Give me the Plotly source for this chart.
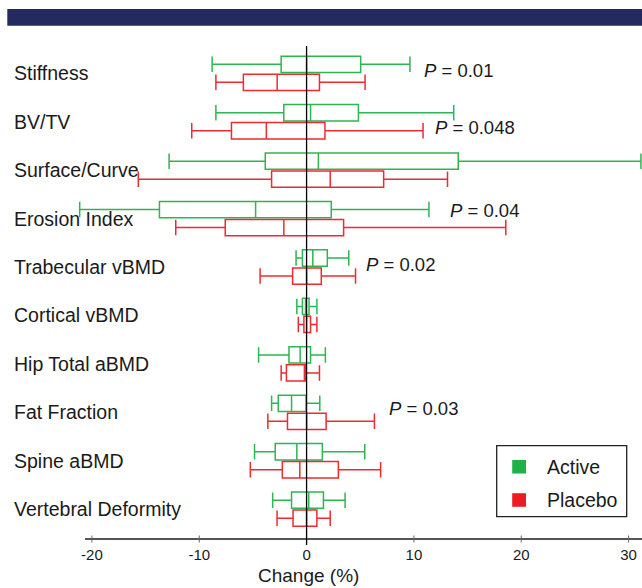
import plotly.graph_objects as go

# ---------------- data ----------------
categories = ["Stiffness", "BV/TV", "Surface/Curve", "Erosion Index", "Trabecular vBMD",
              "Cortical vBMD", "Hip Total aBMD", "Fat Fraction", "Spine aBMD", "Vertebral Deformity"]

active_low = [-8.80, -8.45, -12.81, -21.14, -0.98, -0.91, -4.47, -3.26, -4.85, -3.16]
active_q1 = [-2.37, -2.12, -3.85, -13.71, -0.39, -0.39, -1.64, -2.64, -2.92, -1.40]
active_med = [0.00, 0.37, 1.10, -4.75, 0.58, -0.10, -0.60, -1.40, -0.91, 0.20]
active_q3 = [5.04, 4.83, 14.13, 2.30, 1.93, 0.23, 0.37, -0.05, 1.47, 1.57]
active_high = [9.63, 13.71, 31.15, 11.40, 3.93, 0.96, 1.75, 1.23, 5.42, 3.59]

placebo_low = [-8.45, -10.70, -15.68, -12.19, -4.33, -0.77, -2.37, -3.61, -5.24, -2.75]
placebo_q1 = [-5.89, -7.00, -3.26, -7.58, -1.30, -0.25, -1.88, -1.78, -2.26, -1.26]
placebo_med = [-2.74, -3.75, 2.20, -2.12, 0.00, 0.00, -0.11, 0.00, -0.63, 0.00]
placebo_q3 = [1.20, 1.71, 7.18, 3.45, 1.37, 0.37, -0.11, 1.82, 2.96, 0.96]
placebo_high = [5.45, 10.85, 13.13, 18.56, 4.56, 0.96, 1.20, 6.32, 6.90, 2.20]

p_labels = ["0.01", "0.048", "0.04", "0.02", "0.03"]
p_rows = [0, 1, 3, 4, 7]

tick_vals = [-20, -10, 0, 10, 20, 30]
tick_text = ["-20", "-10", "0", "10", "20", "30"]

series_names = ["Active", "Placebo"]

# ---------------- style / layout ----------------
W, H = 642, 588
ML, MR, MT, MB = 77, 0, 40, 49
PW, PH = W - ML - MR, H - MT - MB
X_RANGE = [-21.39, 31.25]
Y_RANGE = [9.616, -0.688]
GREEN_LINE = "#2fb552"
RED_LINE = "#ee2b30"
GREEN_FILL = "#1db14b"
RED_FILL = "#ed1c24"
FONT = "Liberation Sans, Arial, sans-serif"
OFF = 0.186
BOXW = 0.337

# text-label positions (data x, offset from row)
p_x = [10.72, 11.80, 13.17, 5.39, 7.46]
p_dy = [-0.068, 0.113, -0.177, -0.052, -0.083]


def px_x(px):
    return (px - ML) / PW


def px_y(py):
    return (H - MB - py) / PH


rows = list(range(len(categories)))

fig = go.Figure()
fig.add_trace(go.Box(
    name=series_names[0], orientation="h",
    y=[r - OFF for r in rows],
    q1=active_q1, median=active_med, q3=active_q3,
    lowerfence=active_low, upperfence=active_high,
    width=BOXW, whiskerwidth=0.95,
    line=dict(color=GREEN_LINE, width=1.5),
    fillcolor="rgba(0,0,0,0)", showlegend=False, hoverinfo="skip",
))
fig.add_trace(go.Box(
    name=series_names[1], orientation="h",
    y=[r + OFF for r in rows],
    q1=placebo_q1, median=placebo_med, q3=placebo_q3,
    lowerfence=placebo_low, upperfence=placebo_high,
    width=BOXW, whiskerwidth=0.95,
    line=dict(color=RED_LINE, width=1.5),
    fillcolor="rgba(0,0,0,0)", showlegend=False, hoverinfo="skip",
))

shapes = []
# banner
shapes.append(dict(type="rect", xref="paper", yref="paper",
                   x0=px_x(7.3), x1=px_x(645), y0=px_y(25.7), y1=px_y(9),
                   fillcolor="#232a5e", line=dict(width=0), layer="above"))
# x axis line
shapes.append(dict(type="line", xref="x", yref="paper", x0=-20.64, x1=X_RANGE[1],
                   y0=0, y1=0, line=dict(color="#555555", width=2)))
# cross ticks
for t in tick_vals:
    shapes.append(dict(type="line", xref="x", yref="paper", x0=t, x1=t,
                       y0=px_y(542.5), y1=px_y(535.5), line=dict(color="#666666", width=1)))
# zero line
shapes.append(dict(type="line", xref="x", yref="paper", x0=0, x1=0,
                   y0=px_y(545), y1=px_y(46), line=dict(color="black", width=1.3), layer="above"))
# legend box
shapes.append(dict(type="rect", xref="paper", yref="paper",
                   x0=px_x(496.7), x1=px_x(626.7), y0=px_y(516.7), y1=px_y(445.7),
                   line=dict(color="#222222", width=1.3), fillcolor="white", layer="above"))
for cy, col in [(466.7, GREEN_FILL), (500, RED_FILL)]:
    shapes.append(dict(type="rect", xref="paper", yref="paper",
                       x0=px_x(512.2), x1=px_x(526), y0=px_y(cy + 6.8), y1=px_y(cy - 6.8),
                       fillcolor=col, line=dict(width=0), layer="above"))

annotations = []
for r, name in zip(rows, categories):
    annotations.append(dict(text=name, xref="paper", yref="y", x=px_x(11.7), y=r,
                            xanchor="left", yanchor="middle", showarrow=False,
                            font=dict(size=19.5, color="#1a1a1a", family=FONT)))
for lab, row, x, dy in zip(p_labels, p_rows, p_x, p_dy):
    annotations.append(dict(text="<i>P</i> = " + lab, xref="x", yref="y", x=x, y=row + dy,
                            xanchor="left", yanchor="middle", showarrow=False,
                            font=dict(size=18.5, color="#1a1a1a", family=FONT)))
for name, cy in zip(series_names, [466.7, 500]):
    annotations.append(dict(text=name, xref="paper", yref="paper", x=px_x(545), y=px_y(cy),
                            xanchor="left", yanchor="middle", showarrow=False,
                            font=dict(size=19.5, color="#1a1a1a", family=FONT)))
annotations.append(dict(text="Change (%)", xref="paper", yref="paper", x=px_x(308.4), y=px_y(575.5),
                        xanchor="center", yanchor="middle", showarrow=False,
                        font=dict(size=19, color="#1a1a1a", family=FONT)))

fig.update_layout(
    width=W, height=H,
    margin=dict(l=ML, r=MR, t=MT, b=MB),
    paper_bgcolor="white", plot_bgcolor="white",
    boxmode="overlay",
    showlegend=False,
    shapes=shapes,
    annotations=annotations,
    xaxis=dict(range=X_RANGE, tickvals=tick_vals, ticktext=tick_text,
               showgrid=False, zeroline=False, showline=False, ticks="",
               ticklabelstandoff=5,
               tickfont=dict(size=15, color="#1a1a1a", family=FONT),
               fixedrange=True),
    yaxis=dict(range=Y_RANGE, showgrid=False, zeroline=False, showline=False,
               showticklabels=False, ticks="", fixedrange=True),
    font=dict(family=FONT),
)

fig.write_html("out.html", config={"displayModeBar": False},
               post_script="document.body.style.margin='0';document.body.style.overflow='hidden';")
